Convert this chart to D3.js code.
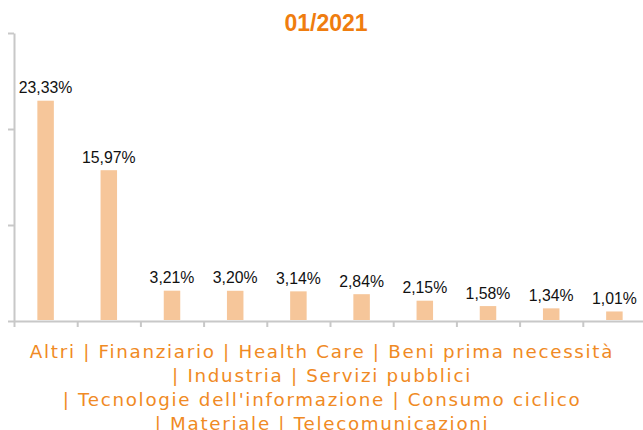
<!DOCTYPE html>
<html>
<head>
<meta charset="utf-8">
<script src="https://cdn.jsdelivr.net/npm/d3@7"></script>
<style>
  body { margin: 0; background: #fff; }
  .axis path, .axis line { stroke: #c8c8c8; stroke-width: 2; }
</style>
</head>
<body>
<svg id="chart" width="643" height="430"></svg>
<script>
'use strict';
let title = "01/2021";
let categories = ["Altri", "Finanziario", "Health Care", "Beni prima necessità", "Industria",
    "Servizi pubblici", "Tecnologie dell'informazione", "Consumo ciclico", "Materiale", "Telecomunicazioni"];
let values = [23.33, 15.97, 3.21, 3.20, 3.14, 2.84, 2.15, 1.58, 1.34, 1.01];
let legendRows = [4, 2, 2, 2];   // how many category names go on each line below the chart

let svg = d3.select("#chart"),
    margin = {top: 33, left: 14, bottom: 109},
    height = +svg.attr("height"),
    step = 63.2,
    yMax = 30.5;

let formatPct = v => d3.format(".2f")(v).replace(".", ",") + "%";

let xEdge = d3.scaleLinear()
    .domain([0, categories.length])
    .range([margin.left, margin.left + step * categories.length]);

let y = d3.scaleLinear()
    .domain([0, yMax])
    .range([height - margin.bottom, margin.top]);

svg.append("text")
    .attr("x", 326)
    .attr("y", 31)
    .attr("text-anchor", "middle")
    .style("font-family", "'Liberation Sans', Arial, sans-serif")
    .style("font-weight", "bold")
    .style("font-size", "23px")
    .style("fill", "#ef7d0f")
    .text(title);

svg.append("g")
    .attr("class", "axis y-axis")
    .attr("transform", "translate(" + margin.left + ",0)")
    .call(d3.axisLeft(y).tickValues([0, yMax / 3, yMax * 2 / 3, yMax]).tickFormat("").tickSize(6).tickSizeOuter(0));

svg.append("g")
    .attr("class", "axis x-axis")
    .attr("transform", "translate(0," + y(0) + ")")
    .call(d3.axisBottom(xEdge).tickValues(d3.range(categories.length)).tickFormat("").tickSize(6).tickSizeOuter(0));

let barW = 16.5;
let g = svg.selectAll(".bar")
    .data(values)
    .enter()
    .append("g");

g.append("rect")
    .attr("x", (d, i) => xEdge(i + 0.5) - barW / 2)
    .attr("y", d => y(d))
    .attr("width", barW)
    .attr("height", d => y(0) - y(d) - 1)
    .attr("fill", "#f6c69a");

g.append("text")
    .attr("x", (d, i) => xEdge(i + 0.5))
    .attr("y", d => y(d) - 7.5)
    .attr("text-anchor", "middle")
    .style("font-family", "'Liberation Sans', Arial, sans-serif")
    .style("font-size", "15.8px")
    .style("fill", "#111")
    .text(formatPct);

// category names, joined by " | ", split over several lines
let lines = [];
let idx = 0;
legendRows.forEach((n, r) => {
    let names = categories.slice(idx, idx + n).join(" | ");
    lines.push(r === 0 ? names : "| " + names);
    idx += n;
});

svg.selectAll(".legend")
    .data(lines)
    .enter()
    .append("text")
    .attr("class", "legend")
    .attr("x", 322)
    .attr("y", (d, i) => 358 + i * 24)
    .attr("text-anchor", "middle")
    .style("font-family", "'DejaVu Sans', sans-serif")
    .style("font-size", "18.3px")
    .style("letter-spacing", "1.7px")
    .style("fill", "#f08a24")
    .text(d => d);
</script>
</body>
</html>
